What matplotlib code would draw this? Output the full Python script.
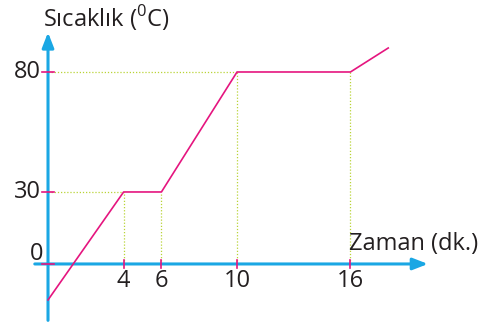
import matplotlib.pyplot as plt

plt.rcParams['font.family'] = ['Open Sans', 'DejaVu Sans']
plt.rcParams['mathtext.fontset'] = 'custom'
plt.rcParams['mathtext.rm'] = 'Open Sans'

# heating curve: time (min) vs temperature (C)
time = [0, 4, 6, 10, 16, 18]
temp = [-15, 30, 30, 80, 80, 90]
x_ticks = [4, 6, 10, 16]
y_ticks = [30, 80]

blue = '#1AA7E4'
pink = '#E5157F'
green = '#B9D437'
ink = '#231F20'

fig = plt.figure(figsize=(4.99, 3.23), dpi=100)
ax = fig.add_axes([0, 0, 1, 1])
ax.set_xlim(-2.54, 23.86)
ax.set_ylim(-24.6, 110)
ax.axis('off')

# axes with arrow heads
ax.annotate('', xy=(20.1, 0), xytext=(-0.7, 0),
            arrowprops=dict(arrowstyle='-|>,head_length=0.9,head_width=0.35',
                            color=blue, lw=2.2, shrinkA=0, shrinkB=0))
ax.annotate('', xy=(0, 96.5), xytext=(0, -23.5),
            arrowprops=dict(arrowstyle='-|>,head_length=0.9,head_width=0.35',
                            color=blue, lw=2.2, shrinkA=0, shrinkB=0))

# dotted guide lines to the corner points
for t, v in zip(time[1:5], temp[1:5]):
    ax.plot([t, t], [0, v], ls=(0, (1, 1.5)), color=green, lw=0.9, zorder=1)
for t, v in [(4, 30), (10, 80)]:
    ax.plot([0, t], [v, v], ls=(0, (1, 1.5)), color=green, lw=0.9, zorder=1)

ax.plot(time, temp, color=pink, lw=1.2, zorder=3)

# tick marks
for t in x_ticks:
    ax.plot([t, t], [-1.5, 1.5], color=pink, lw=1.2, zorder=4)
    ax.text(t, -7, str(t), ha='center', va='center', fontsize=17, color=ink)
for v in [0] + y_ticks:
    ax.plot([-0.3, 0.3], [v, v], color=pink, lw=1.2, zorder=4)
for v in y_ticks:
    ax.text(-0.4, v, str(v), ha='right', va='center', fontsize=17, color=ink)
ax.text(-0.25, 4.3, '0', ha='right', va='center', fontsize=17, color=ink)

ax.text(-0.28, 98.7, 'Sıcaklık ($^{0}$C)', ha='left', va='baseline',
        fontsize=17, color=ink)
ax.text(15.95, 5.8, 'Zaman (dk.)', ha='left', va='baseline',
        fontsize=17, color=ink)

fig.savefig('out.png', dpi=100)
